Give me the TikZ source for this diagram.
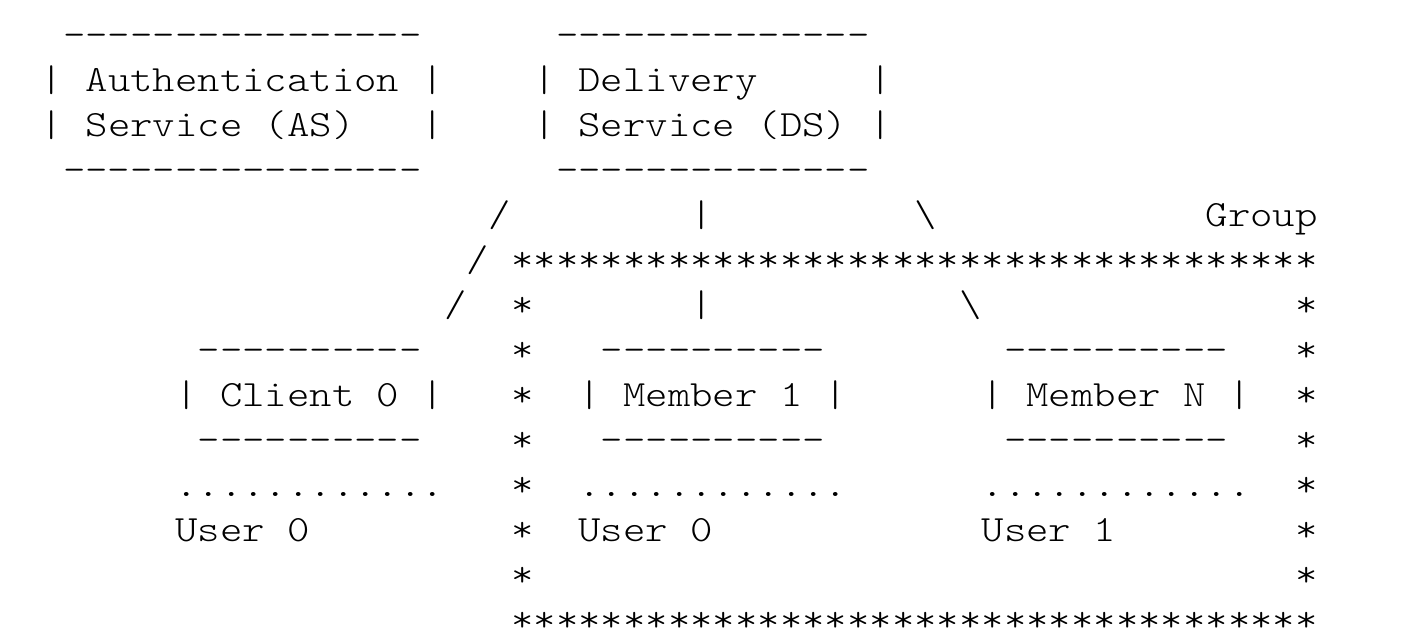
\documentclass[tikz,border=0pt]{standalone}
\usepackage{fontspec}
\setmonofont{lmmonolt10-regular.otf}[FakeStretch=1.1532]
\usepackage{tikz}

\begin{document}
\begin{tikzpicture}[x=11.2pt,y=-22.5pt,
        ascii/.style={font=\ttfamily\fontsize{18.5pt}{22.5pt}\selectfont,anchor=base west,inner sep=0pt,outer sep=0pt}]
    \useasboundingbox (-1.8214,-0.0222) rectangle (61.0804,14.2667);
    % authentication service
    \node[ascii] (asTop) at (1,1) {----------------};
    \node[ascii] (asL1) at (0,2) {| Authentication |};
    \node[ascii] (asL2) at (0,3) {| Service (AS)};
    \node[ascii] (asR2) at (17,3) {|};
    \node[ascii] (asBot) at (1,4) {----------------};
    % delivery service
    \node[ascii] (dsTop) at (23,1) {--------------};
    \node[ascii] (dsL1) at (22,2) {| Delivery};
    \node[ascii] (dsR1) at (37,2) {|};
    \node[ascii] (dsL2) at (22,3) {| Service (DS) |};
    \node[ascii] (dsBot) at (23,4) {--------------};
    % links from the DS
    \node[ascii] (lnA) at (20,5) {/};
    \node[ascii] (lnB) at (19,6) {/};
    \node[ascii] (lnC) at (18,7) {/};
    \node[ascii] (lnD) at (29,5) {|};
    \node[ascii] (lnE) at (29,7) {|};
    \node[ascii] (lnF) at (39,5) {\textbackslash};
    \node[ascii] (lnG) at (41,7) {\textbackslash};
    % group frame
    \node[ascii] (grpLabel) at (52,5) {Group};
    \node[ascii] (grpTop) at (21,6) {************************************};
    \node[ascii] (grpL7) at (21,7) {*};   \node[ascii] (grpR7) at (56,7) {*};
    \node[ascii] (grpL8) at (21,8) {*};   \node[ascii] (grpR8) at (56,8) {*};
    \node[ascii] (grpL9) at (21,9) {*};   \node[ascii] (grpR9) at (56,9) {*};
    \node[ascii] (grpL10) at (21,10) {*}; \node[ascii] (grpR10) at (56,10) {*};
    \node[ascii] (grpL11) at (21,11) {*}; \node[ascii] (grpR11) at (56,11) {*};
    \node[ascii] (grpL12) at (21,12) {*}; \node[ascii] (grpR12) at (56,12) {*};
    \node[ascii] (grpL13) at (21,13) {*}; \node[ascii] (grpR13) at (56,13) {*};
    \node[ascii] (grpBot) at (21,14) {************************************};
    % client 0
    \node[ascii] (cl0Top) at (7,8) {----------};
    \node[ascii] (cl0) at (6,9) {| Client 0 |};
    \node[ascii] (cl0Bot) at (7,10) {----------};
    \node[ascii] (cl0Dots) at (6,11) {............};
    \node[ascii] (cl0User) at (6,12) {User 0};
    % member 1
    \node[ascii] (m1Top) at (25,8) {----------};
    \node[ascii] (m1) at (24,9) {| Member 1 |};
    \node[ascii] (m1Bot) at (25,10) {----------};
    \node[ascii] (m1Dots) at (24,11) {............};
    \node[ascii] (m1User) at (24,12) {User 0};
    % member N
    \node[ascii] (mNTop) at (43,8) {----------};
    \node[ascii] (mN) at (42,9) {| Member N |};
    \node[ascii] (mNBot) at (43,10) {----------};
    \node[ascii] (mNDots) at (42,11) {............};
    \node[ascii] (mNUser) at (42,12) {User 1};
\end{tikzpicture}
\end{document}
